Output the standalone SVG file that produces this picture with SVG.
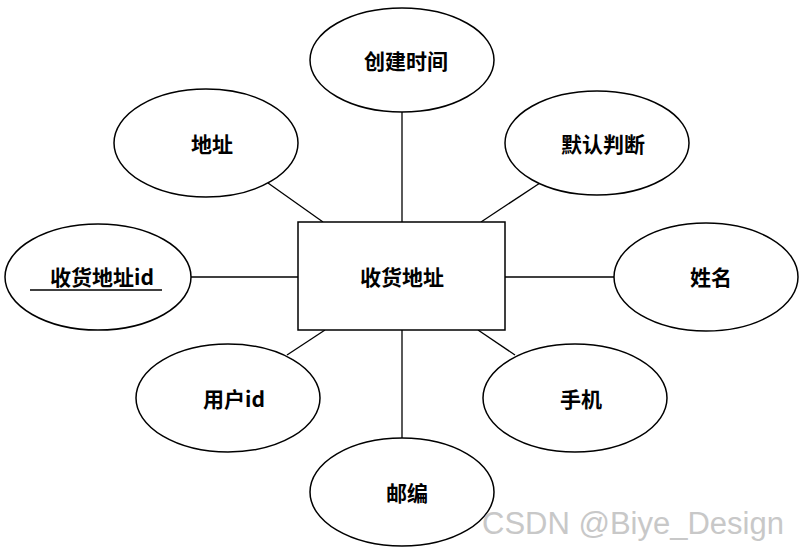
<svg xmlns="http://www.w3.org/2000/svg" width="802" height="552" viewBox="0 0 802 552">
<style>
ellipse,rect{fill:#fff;stroke:#000;stroke-width:1.5}
line{stroke:#000;stroke-width:1.3}
text{font-family:"Noto Sans CJK SC","Liberation Sans",sans-serif;font-size:21px;font-weight:bold;text-anchor:middle;dominant-baseline:central}
</style>
<rect width="802" height="552" fill="#fff" style="stroke:none"/>
<g id="connectors">
<line x1="402" y1="112" x2="402" y2="222"/>
<line x1="268" y1="183" x2="323" y2="222"/>
<line x1="540" y1="183" x2="481" y2="222"/>
<line x1="191" y1="277" x2="298" y2="277"/>
<line x1="505" y1="277" x2="614" y2="277"/>
<line x1="287" y1="355" x2="325" y2="330"/>
<line x1="515" y1="355" x2="478" y2="330"/>
<line x1="402" y1="330" x2="402" y2="438"/>
</g>
<g id="center"><rect x="298" y="222" width="207" height="108"/><text x="402" y="276">收货地址</text></g>
<g id="n1"><ellipse cx="402" cy="60" rx="92" ry="52"/><text x="406" y="60">创建时间</text></g>
<g id="n2"><ellipse cx="206" cy="143" rx="92" ry="54"/><text x="212" y="143">地址</text></g>
<g id="n3"><ellipse cx="597" cy="143" rx="92" ry="52"/><text x="603" y="143">默认判断</text></g>
<g id="n4"><ellipse cx="98" cy="277" rx="93" ry="53"/><text x="102" y="276">收货地址id</text><line x1="30" y1="290" x2="162" y2="290"/></g>
<g id="n5"><ellipse cx="706" cy="277" rx="92" ry="54"/><text x="711" y="276">姓名</text></g>
<g id="n6"><ellipse cx="228" cy="398" rx="92" ry="54"/><text x="234" y="398">用户id</text></g>
<g id="n7"><ellipse cx="575" cy="398" rx="92" ry="54"/><text x="581" y="398">手机</text></g>
<g id="n8"><ellipse cx="402" cy="492" rx="92" ry="54"/><text x="407" y="492">邮编</text></g>
<text x="633" y="523" style="font-weight:normal;font-size:31px;fill:#c8c8c8;font-family:'Liberation Sans',sans-serif">CSDN @Biye_Design</text>
</svg>
